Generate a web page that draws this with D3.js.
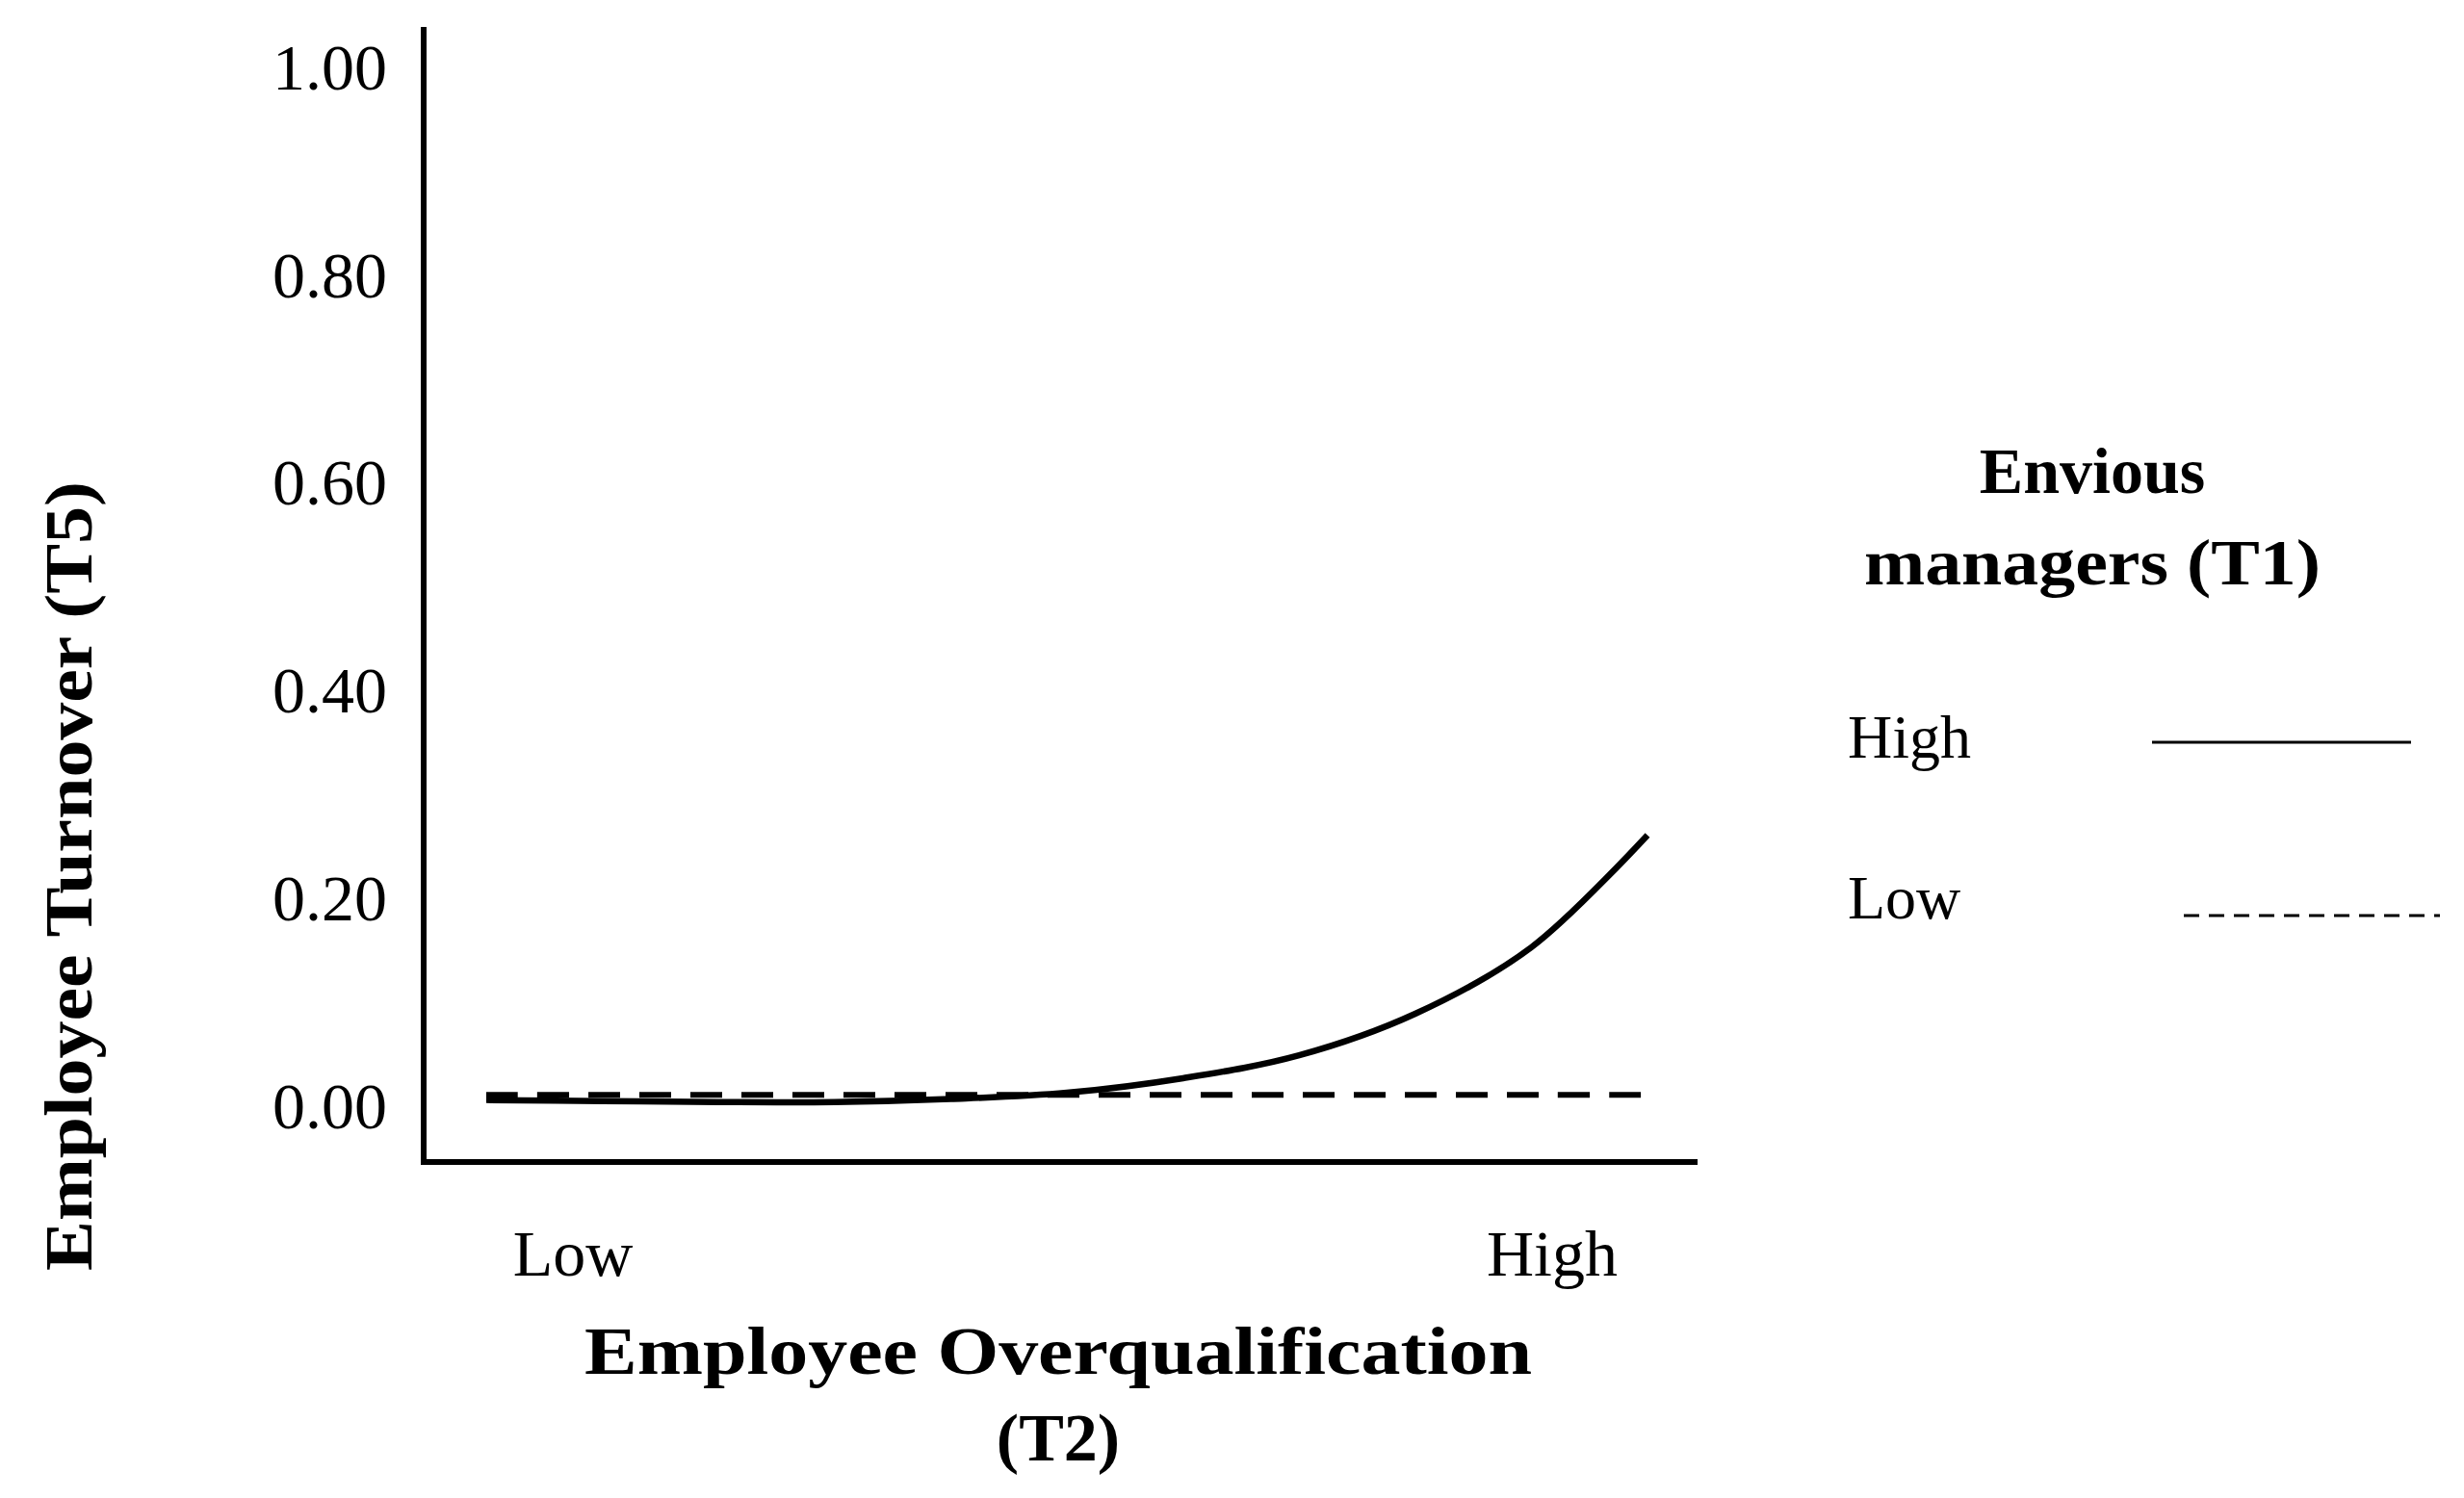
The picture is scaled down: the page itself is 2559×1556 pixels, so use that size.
<!DOCTYPE html><html><head><meta charset="utf-8">
<script src="https://cdn.jsdelivr.net/npm/d3@7"></script>
<style>body{margin:0;background:#fff}</style></head><body>
<script>
const xLevels=[0,0.1,0.2,0.3,0.4,0.5,0.6,0.7,0.8,0.9,1.0];
const highEnvy=[0.005,0.004,0.003,0.003,0.006,0.012,0.026,0.048,0.088,0.152,0.26];
const lowEnvy=[0.01,0.01,0.01,0.01,0.01,0.01,0.01,0.01,0.01,0.01,0.01];
const yTicks=[0,0.2,0.4,0.6,0.8,1.0];
const xCats=["Low","High"];

const W=2559,H=1556,F="'Liberation Serif','Times New Roman',serif";
const svg=d3.select("body").append("svg").attr("width",W).attr("height",H);
const x=d3.scaleLinear().domain([0,1]).range([505,1711]);
const y=d3.scaleLinear().domain([0,1]).range([1148,69]);

svg.append("line").attr("x1",440).attr("x2",440).attr("y1",28).attr("y2",1210).attr("stroke","#000").attr("stroke-width",6);
svg.append("line").attr("x1",437).attr("x2",1763).attr("y1",1207).attr("y2",1207).attr("stroke","#000").attr("stroke-width",6);

svg.selectAll(".yt").data(yTicks).enter().append("text")
 .attr("x",402).attr("y",d=>y(d)).attr("dy","0.35em").attr("text-anchor","end")
 .attr("font-family",F).attr("font-size",68).text(d=>d.toFixed(2));

const xc=d3.scalePoint().domain(xCats).range([595,1612]);
svg.selectAll(".xt").data(xCats).enter().append("text")
 .attr("x",d=>xc(d)).attr("y",1325).attr("text-anchor","middle")
 .attr("font-family",F).attr("font-size",68).text(d=>d);

const line=d3.line().x((d,i)=>x(xLevels[i])).y(d=>y(d)).curve(d3.curveCatmullRom);
svg.append("path").attr("d",line(lowEnvy)).attr("fill","none").attr("stroke","#000").attr("stroke-width",6).attr("stroke-dasharray","33,20");
svg.append("path").attr("d",line(highEnvy)).attr("fill","none").attr("stroke","#000").attr("stroke-width",6.5);

svg.append("text").attr("x",1099).attr("y",1427).attr("text-anchor","middle").attr("font-family",F).attr("font-weight","bold").attr("font-size",70)
 .attr("textLength",984).attr("lengthAdjust","spacingAndGlyphs").text("Employee Overqualification");
svg.append("text").attr("x",1099).attr("y",1517).attr("text-anchor","middle").attr("font-family",F).attr("font-weight","bold").attr("font-size",70).text("(T2)");
svg.append("text").attr("transform","translate(95,910) rotate(-90)").attr("text-anchor","middle").attr("font-family",F).attr("font-weight","bold").attr("font-size",70)
 .attr("textLength",820).attr("lengthAdjust","spacingAndGlyphs").text("Employee Turnover (T5)");

svg.append("text").attr("x",2173).attr("y",512).attr("text-anchor","middle").attr("font-family",F).attr("font-weight","bold").attr("font-size",68).text("Envious");
svg.append("text").attr("x",2173).attr("y",607).attr("text-anchor","middle").attr("font-family",F).attr("font-weight","bold").attr("font-size",68)
 .attr("textLength",474).attr("lengthAdjust","spacingAndGlyphs").text("managers (T1)");
svg.append("text").attr("x",1919).attr("y",787).attr("font-family",F).attr("font-size",64).text("High");
svg.append("text").attr("x",1919).attr("y",954).attr("font-family",F).attr("font-size",64).text("Low");
svg.append("line").attr("x1",2235).attr("x2",2504).attr("y1",771).attr("y2",771).attr("stroke","#000").attr("stroke-width",3);
svg.append("line").attr("x1",2268).attr("x2",2534).attr("y1",951).attr("y2",951).attr("stroke","#000").attr("stroke-width",3).attr("stroke-dasharray","16,10");
</script></body></html>
